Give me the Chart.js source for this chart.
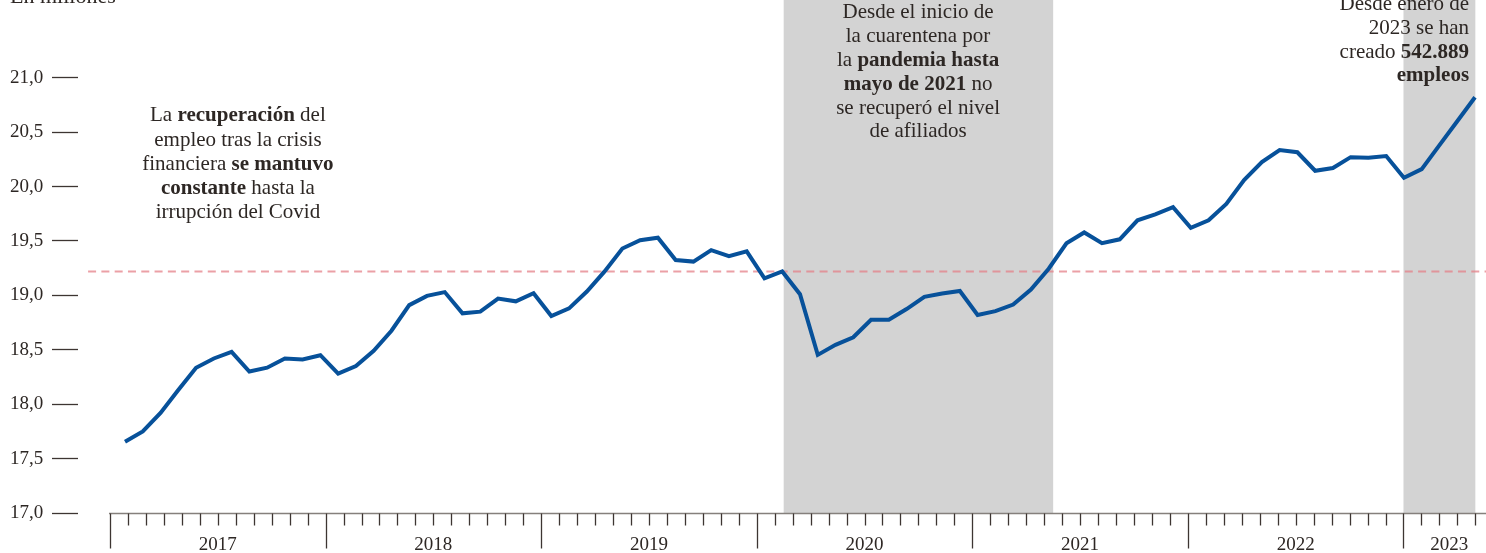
<!DOCTYPE html>
<html lang="es">
<head>
<meta charset="utf-8">
<title>Afiliados a la Seguridad Social</title>
<script src="https://cdn.jsdelivr.net/npm/chart.js@4.4.0/dist/chart.umd.min.js"></script>
<style>
  html, body { margin: 0; padding: 0; background: #fff; }
  #wrap { position: relative; width: 1486px; height: 553px; }
</style>
</head>
<body>
<div id="wrap"><canvas id="chart"></canvas></div>
<script>
// Afiliados (millones), media mensual, enero 2017 - mayo 2023
const values2017 = [17.655, 17.75, 17.92, 18.13, 18.335, 18.42, 18.48, 18.30, 18.335, 18.42, 18.41, 18.45];
const values2018 = [18.28, 18.35, 18.49, 18.675, 18.91, 18.995, 19.03, 18.835, 18.85, 18.97, 18.945, 19.02];
const values2019 = [18.81, 18.88, 19.035, 19.22, 19.43, 19.507, 19.53, 19.325, 19.31, 19.415, 19.36, 19.405];
const values2020 = [19.157, 19.22, 19.01, 18.453, 18.545, 18.615, 18.776, 18.776, 18.874, 18.986, 19.017, 19.04];
const values2021 = [18.82, 18.855, 18.915, 19.053, 19.245, 19.478, 19.578, 19.48, 19.515, 19.69, 19.745, 19.81];
const values2022 = [19.62, 19.69, 19.84, 20.06, 20.225, 20.335, 20.315, 20.145, 20.17, 20.27, 20.265, 20.28];
const values2023 = [20.08, 20.16, 20.38, 20.6, 20.82];

const yearLabels = ['2017', '2018', '2019', '2020', '2021', '2022', '2023'];
const yTicks = [17.0, 17.5, 18.0, 18.5, 19.0, 19.5, 20.0, 20.5, 21.0];
const preCovidLevel = 19.22;          // nivel de febrero de 2020
const monthTicks = 76;                // meses marcados en el eje (ene 2017 .. may 2023)
const shadedMonths = [[37.5, 52.5], [72, 76]];

const afiliados = [].concat(values2017, values2018, values2019, values2020, values2021, values2022, values2023);

const INK = '#2d2724';
const SERIF = '"Liberation Serif", "DejaVu Serif", serif';
const NOTE_SIZE = 21;

const notes = [
    { x: 7.12, y: 20.649, align: 'center', lh: 24.2, lines: [
        [['La ', false], ['recuperación', true], [' del', false]],
        [['empleo tras la crisis', false]],
        [['financiera ', false], ['se mantuvo', true]],
        [['constante', true], [' hasta la', false]],
        [['irrupción del Covid', false]]
    ] },
    { x: 44.98, y: 21.596, align: 'center', lh: 23.8, lines: [
        [['Desde el inicio de', false]],
        [['la cuarentena por', false]],
        [['la ', false], ['pandemia hasta', true]],
        [['mayo de 2021', true], [' no', false]],
        [['se recuperó el nivel', false]],
        [['de afiliados', false]]
    ] },
    { x: 75.65, y: 21.669, align: 'right', lh: 23.7, lines: [
        [['Desde enero de', false]],
        [['2023 se han', false]],
        [['creado ', false], ['542.889', true]],
        [['empleos', true]]
    ] }
];

function drawRich(ctx, parts, x, y, align) {
    const widths = parts.map(p => {
        ctx.font = (p[1] ? 'bold ' : '') + NOTE_SIZE + 'px ' + SERIF;
        return ctx.measureText(p[0]).width;
    });
    const total = widths.reduce((a, b) => a + b, 0);
    let cx = align === 'center' ? x - total / 2 : (align === 'right' ? x - total : x);
    parts.forEach((p, i) => {
        ctx.font = (p[1] ? 'bold ' : '') + NOTE_SIZE + 'px ' + SERIF;
        ctx.fillText(p[0], cx, y);
        cx += widths[i];
    });
}

const decor = {
    id: 'decor',
    beforeDatasetsDraw(chart) {
        const { ctx, chartArea } = chart;
        const xm = chart.scales.xm;
        const y = chart.scales.y;
        const base = y.getPixelForValue(17);
        ctx.save();
        ctx.fillStyle = '#d3d3d3';
        shadedMonths.forEach(([a, b]) => {
            const x1 = xm.getPixelForValue(a);
            const x2 = xm.getPixelForValue(b);
            ctx.fillRect(x1, chartArea.top, x2 - x1, base - chartArea.top);
        });
        const ry = Math.round(y.getPixelForValue(preCovidLevel)) + 0.5;
        ctx.strokeStyle = 'rgba(228, 128, 136, 0.75)';
        ctx.lineWidth = 2;
        ctx.setLineDash([8, 5.3]);
        ctx.beginPath();
        ctx.moveTo(xm.getPixelForValue(-1.22), ry);
        ctx.lineTo(chartArea.right, ry);
        ctx.stroke();
        ctx.restore();
    },
    afterDraw(chart) {
        const { ctx, chartArea } = chart;
        const xm = chart.scales.xm;
        const y = chart.scales.y;
        const base = Math.round(y.getPixelForValue(17)) + 0.5;
        ctx.save();
        // eje horizontal
        ctx.strokeStyle = '#85807c';
        ctx.lineWidth = 1.5;
        ctx.beginPath();
        ctx.moveTo(xm.getPixelForValue(0) - 1, base);
        ctx.lineTo(chartArea.right, base);
        ctx.stroke();
        ctx.strokeStyle = '#3d3532';
        ctx.lineWidth = 1.3;
        for (let m = 0; m <= monthTicks; m++) {
            const px = Math.round(xm.getPixelForValue(m)) + 0.5;
            ctx.beginPath();
            ctx.moveTo(px, base);
            ctx.lineTo(px, base + (m % 12 === 0 ? 35 : 12));
            ctx.stroke();
        }
        ctx.fillStyle = INK;
        ctx.font = '19px ' + SERIF;
        ctx.textAlign = 'center';
        ctx.textBaseline = 'middle';
        yearLabels.forEach((label, i) => {
            const mid = i < 6 ? i * 12 + 6 : 74.55;
            ctx.fillText(label, xm.getPixelForValue(mid), base + 32);
        });
        // notas
        ctx.textAlign = 'left';
        notes.forEach(n => {
            const x0 = xm.getPixelForValue(n.x);
            const y0 = y.getPixelForValue(n.y);
            n.lines.forEach((line, i) => drawRich(ctx, line, x0, y0 + i * n.lh, n.align));
        });
        ctx.textBaseline = 'alphabetic';
        ctx.font = '22px ' + SERIF;
        ctx.fillText('En millones', 10, 3);
        ctx.restore();
    }
};

new Chart(document.getElementById('chart'), {
    type: 'line',
    data: {
        datasets: [{
            label: 'Afiliados',
            data: afiliados.map((v, i) => ({ x: i, y: v })),
            xAxisID: 'x',
            yAxisID: 'y',
            borderColor: '#07519a',
            borderWidth: 4,
            pointRadius: 0,
            tension: 0,
            fill: false
        }]
    },
    options: {
        responsive: true,
        maintainAspectRatio: false,
        animation: false,
        events: [],
        layout: { padding: { left: 10, top: 0, right: 0, bottom: 40 } },
        plugins: {
            legend: { display: false },
            tooltip: { enabled: false }
        },
        scales: {
            // posiciones de los datos (un punto por mes)
            x: { type: 'linear', display: false, min: -2.646, max: 76.619 },
            // meses del eje (marcas)
            xm: { type: 'linear', axis: 'x', display: false, min: -1.781, max: 76.593 },
            y: {
                min: 17,
                max: 21.714,
                afterFit: s => { s.width = 68; s.paddingTop = 0; s.paddingBottom = 0; },
                afterBuildTicks: s => { s.ticks = yTicks.map(v => ({ value: v })); },
                border: { display: false },
                grid: {
                    drawOnChartArea: false,
                    tickLength: 26,
                    tickColor: '#3d3532',
                    tickWidth: 1.3
                },
                ticks: {
                    crossAlign: 'far',
                    color: INK,
                    font: { family: SERIF, size: 19 },
                    callback: v => v.toFixed(1).replace('.', ',')
                }
            }
        }
    },
    plugins: [decor]
});
</script>
</body>
</html>
